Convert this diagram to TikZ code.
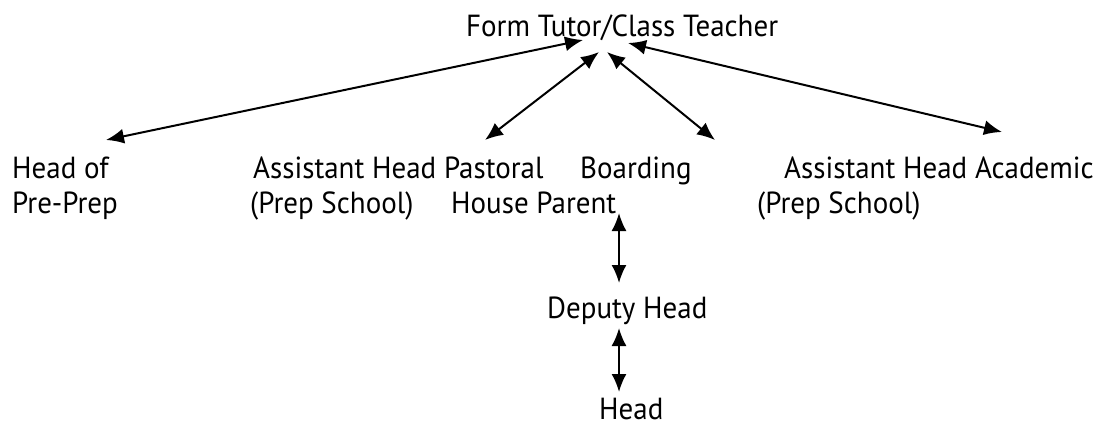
\documentclass[tikz,border=0pt]{standalone}
\usepackage{fontspec}
\setmainfont{PT Sans}[FakeStretch=0.95]
\usetikzlibrary{arrows.meta}
\begin{document}
\begin{tikzpicture}[x=1pt,y=-1pt,
  lbl/.style={inner sep=0pt,anchor=base west,font=\fontsize{30.5}{36}\selectfont},
  link/.style={line width=2pt,{Latex[length=18pt,width=15pt]}-{Latex[length=18pt,width=15pt]}}]
\useasboundingbox (0,0) rectangle (1094,425);
% labels
\node[lbl] (ft) at (466,37) {Form Tutor/Class Teacher};
\node[lbl] (hpp1) at (12,178) {Head of};
\node[lbl] (hpp2) at (12,213) {Pre-Prep};
\node[lbl] (ahp1) at (253,178) {Assistant Head Pastoral};
\node[lbl] (ahp2) at (250,213) {(Prep School)};
\node[lbl] (bhp1) at (580,178) {Boarding};
\node[lbl] (bhp2) at (451,213) {House Parent};
\node[lbl] (aha1) at (784,178) {Assistant Head Academic};
\node[lbl] (aha2) at (757,213) {(Prep School)};
\node[lbl] (dh) at (547,318) {Deputy Head};
\node[lbl] (hd) at (599,419) {Head};
% connector end points
\coordinate (ftA) at (583,40);
\coordinate (ftB) at (599,52);
\coordinate (ftC) at (607,52);
\coordinate (ftD) at (628,43);
\coordinate (hppT) at (106,140);
\coordinate (ahpT) at (485,140);
\coordinate (bhpT) at (715,140);
\coordinate (ahaT) at (1002,132);
\coordinate (bhpB) at (619,213);
\coordinate (dhT) at (619,283);
\coordinate (dhB) at (619,328);
\coordinate (hdT) at (619,392);
% connectors
\draw[link] (ftA) -- (hppT);
\draw[link] (ftB) -- (ahpT);
\draw[link] (ftC) -- (bhpT);
\draw[link] (ftD) -- (ahaT);
\draw[link] (bhpB) -- (dhT);
\draw[link] (dhB) -- (hdT);
\end{tikzpicture}
\end{document}
